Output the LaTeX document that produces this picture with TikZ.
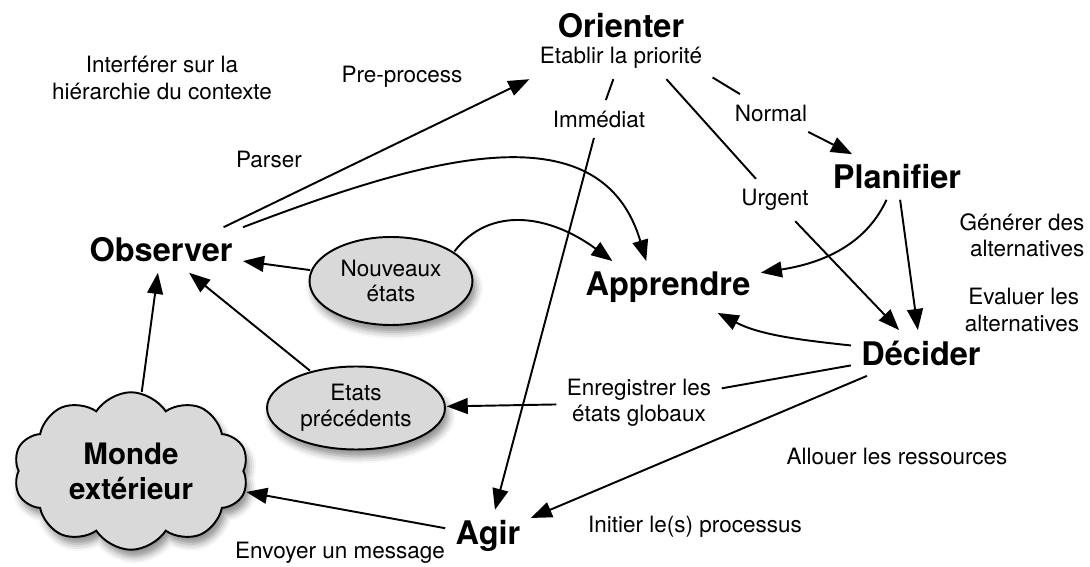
\documentclass[tikz,border=0pt]{standalone}
\usepackage{fontspec}
\setmainfont{TeX Gyre Heros}
\usetikzlibrary{arrows.meta}
\usetikzlibrary{shapes.geometric}
\usetikzlibrary{shapes.symbols}
\usetikzlibrary{shadows.blur}

\begin{document}
\begin{tikzpicture}[x=0.02cm, y=-0.02cm,
		big/.style = {font=\fontsize{18.5}{22}\selectfont\bfseries, inner sep=2pt, outer sep=4pt},
		lab/.style = {font=\fontsize{12.8}{15}\selectfont, inner sep=2pt, outer sep=4pt, align=center},
		etat/.style = {ellipse, draw, line width=1.1pt, fill=gray!30, align=center, inner sep=0pt, outer sep=1pt,
			font=\fontsize{12.8}{14.7}\selectfont,
			blur shadow={shadow xshift=2pt, shadow yshift=-4pt, shadow blur radius=4pt, shadow opacity=45}},
		monde/.style = {cloud, cloud puffs=10, cloud puff arc=115, cloud ignores aspect, draw, line width=1.1pt,
			fill=gray!30, align=center, inner sep=0pt, outer sep=1pt,
			font=\fontsize{16.8}{19.8}\selectfont\bfseries, minimum width=4.7cm, minimum height=3.15cm,
			blur shadow={shadow xshift=2pt, shadow yshift=-4pt, shadow blur radius=4pt, shadow opacity=45}},
		l/.style = {line width=1.1pt},
		r/.style = {-{Triangle[length=12pt, width=9pt]}, line width=1.1pt}
		]
		
		\useasboundingbox (0,0) rectangle (1090,567);
		
		% === === Nodes === ===
		\node[big]	(ori)	at	(621, 26)	{Orienter};
		\node[lab]	(etab)	at	(621, 58)	{Etablir la priorité};
		\node[big]	(pla)	at	(897, 177)	{Planifier};
		\node[big]	(dec)	at	(921, 353)	{Décider};
		\node[big]	(app)	at	(668, 287)	{Apprendre};
		\node[big]	(obs)	at	(161, 250)	{Observer};
		\node[big]	(agi)	at	(488, 536)	{Agir};
		\node[etat, minimum width=3.26cm, minimum height=1.76cm]	(nouv)	at	(391, 281)	{Nouveaux\\états};
		\node[etat, minimum width=3.56cm, minimum height=1.66cm]	(prec)	at	(356, 408)	{Etats\\précédents};
		\node[monde]	(monde)	at	(131, 471)	{Monde\\extérieur};
		
		% === === Labels === ===
		\node[lab]	(imm)	at	(599, 119)	{Immédiat};
		\node[lab]	(norm)	at	(771, 113)	{Normal};
		\node[lab]	(urg)	at	(775, 200)	{Urgent};
		\node[lab, align=right]	(gen)	at	(1022, 235)	{Générer des\\alternatives};
		\node[lab, align=right]	(eval)	at	(1022, 310)	{Evaluer les\\alternatives};
		\node[lab]	(interf)	at	(162, 78)	{Interférer sur la\\hiérarchie du contexte};
		\node[lab]	(pre)	at	(402, 77)	{Pre-process};
		\node[lab]	(pars)	at	(269, 159)	{Parser};
		\node[lab]	(enreg)	at	(639, 403)	{Enregistrer les\\états globaux};
		\node[lab]	(allo)	at	(897, 456)	{Allouer les ressources};
		\node[lab]	(init)	at	(695, 527)	{Initier le(s) processus};
		\node[lab]	(envo)	at	(340, 553)	{Envoyer un message};
		
		% === === Lines === ===
		\draw[r]	(obs.20)	--	(etab.south west);
		\draw[r]	(obs.north east)	.. controls (420, 160) and (600, 105) ..	(app.130);
		\draw[r]	(nouv.25)	.. controls (490, 205) and (550, 215) ..	(app.155);
		\draw[r]	(nouv)	--	(obs);
		\draw[r]	(prec)	--	(obs);
		\draw[r]	(monde)	--	(obs);
		\draw[l]	(etab)	--	(imm);
		\draw[r]	(imm)	--	(agi);
		\draw[l]	(etab.-25)	--	(urg);
		\draw[r]	(urg)	--	(dec);
		\draw[l]	(etab.-12)	--	(norm);
		\draw[r]	(norm)	--	(pla);
		\draw[r]	(pla)	.. controls (868, 240) and (830, 262) ..	(app);
		\draw[r]	(pla)	--	(dec);
		\draw[r]	(dec)	.. controls (800, 340) and (760, 335) ..	(app);
		\draw[l]	(dec)	--	(enreg);
		\draw[r]	(enreg)	--	(prec);
		\draw[r]	(dec)	--	(agi);
		\draw[r]	(agi)	--	(monde);
		
	\end{tikzpicture}
\end{document}
